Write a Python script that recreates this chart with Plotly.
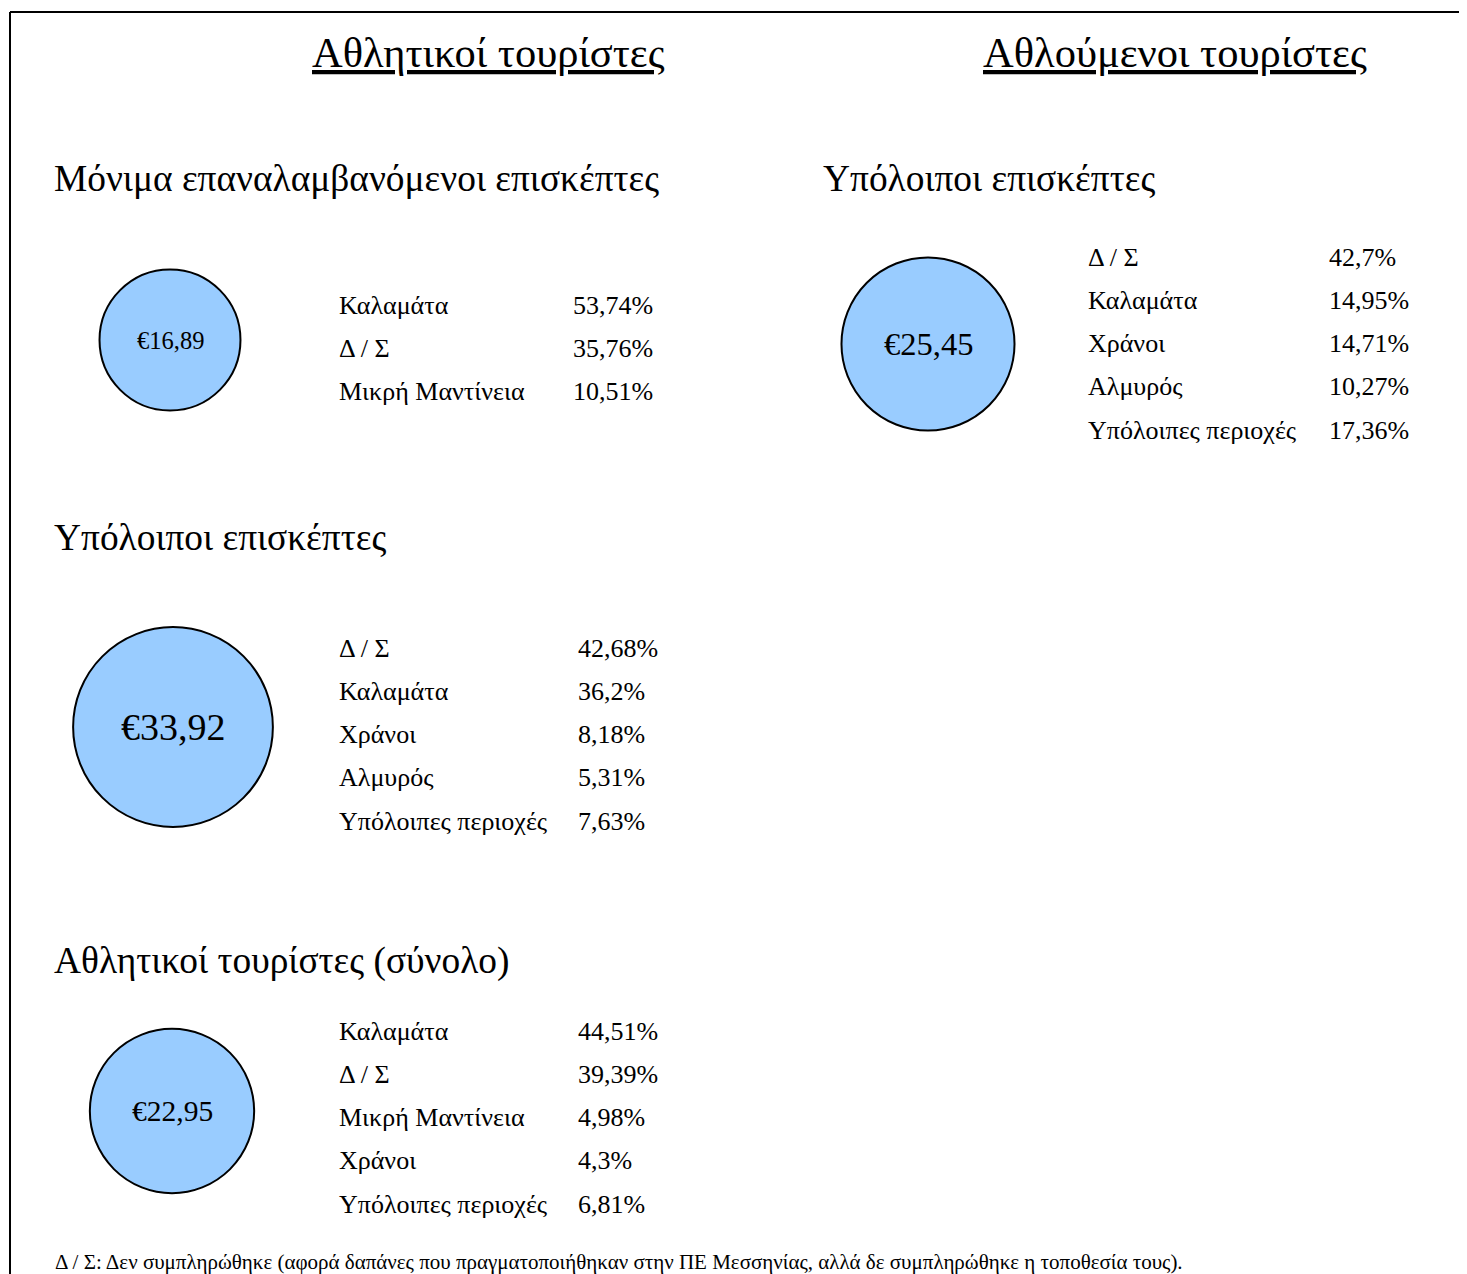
import plotly.graph_objects as go

# -------------------------------------------------
# Data
# -------------------------------------------------

group_titles = ["Αθλητικοί τουρίστες", "Αθλούμενοι τουρίστες"]

panel_titles = [
    "Μόνιμα επαναλαμβανόμενοι επισκέπτες",
    "Υπόλοιποι επισκέπτες",
    "Αθλητικοί τουρίστες (σύνολο)",
    "Υπόλοιποι επισκέπτες",
]

avg_spend = [16.89, 33.92, 22.95, 25.45]

areas_1 = ["Καλαμάτα", "Δ / Σ", "Μικρή Μαντίνεια"]
shares_1 = ["53,74%", "35,76%", "10,51%"]

areas_2 = ["Δ / Σ", "Καλαμάτα", "Χράνοι", "Αλμυρός", "Υπόλοιπες περιοχές"]
shares_2 = ["42,68%", "36,2%", "8,18%", "5,31%", "7,63%"]

areas_3 = ["Καλαμάτα", "Δ / Σ", "Μικρή Μαντίνεια", "Χράνοι", "Υπόλοιπες περιοχές"]
shares_3 = ["44,51%", "39,39%", "4,98%", "4,3%", "6,81%"]

areas_4 = ["Δ / Σ", "Καλαμάτα", "Χράνοι", "Αλμυρός", "Υπόλοιπες περιοχές"]
shares_4 = ["42,7%", "14,95%", "14,71%", "10,27%", "17,36%"]

footnote = ("Δ / Σ: Δεν συμπληρώθηκε (αφορά δαπάνες που πραγματοποιήθηκαν "
            "στην ΠΕ Μεσσηνίας, αλλά δε συμπληρώθηκε η τοποθεσία τους).")

# -------------------------------------------------
# Layout (pixel positions on the page)
# -------------------------------------------------

W, H = 1467, 1274
OFF = 8  # default body margin of the html page
FONT = "Liberation Serif, Times New Roman, DejaVu Serif, serif"

circle_x = [170, 173, 172, 928]
circle_y = [340, 727, 1111, 344]
label_sizes = [24.5, 38, 29.5, 32.5]

header_pos = [(52, 178), (52, 537), (52, 961), (821, 178)]
table_pos = [
    (337, 571, 305),
    (337, 576, 648),
    (337, 576, 1031),
    (1086, 1327, 257),
]
row_step = 43.3

tables = [
    (areas_1, shares_1),
    (areas_2, shares_2),
    (areas_3, shares_3),
    (areas_4, shares_4),
]

fig = go.Figure()

fig.add_trace(go.Scatter(
    x=circle_x,
    y=circle_y,
    mode="markers",
    marker=dict(
        size=avg_spend,
        sizemode="area",
        sizeref=2 / 34.3 ** 2,
        color="#99CCFF",
        line=dict(color="black", width=2),
        opacity=1,
    ),
    hoverinfo="skip",
    showlegend=False,
))

annotations = []

for v, cx, cy, fs in zip(avg_spend, circle_x, circle_y, label_sizes):
    annotations.append(dict(
        x=cx, y=cy, xref="x", yref="y",
        text="€" + f"{v:.2f}".replace(".", ","),
        showarrow=False,
        font=dict(family=FONT, size=fs, color="black"),
    ))

for title, cx in zip(group_titles, [488, 1175]):
    annotations.append(dict(
        x=cx, y=52, xref="x", yref="y",
        text="<u>" + title + "</u>",
        showarrow=False,
        font=dict(family=FONT, size=42.5, color="black"),
    ))

for title, (hx, hy) in zip(panel_titles, header_pos):
    annotations.append(dict(
        x=hx, y=hy, xref="x", yref="y",
        text=title,
        showarrow=False,
        xanchor="left",
        font=dict(family=FONT, size=37.4, color="black"),
    ))

for (areas, shares), (lx, vx, ty) in zip(tables, table_pos):
    for i, (a, s) in enumerate(zip(areas, shares)):
        yy = ty + i * row_step
        annotations.append(dict(
            x=lx, y=yy, xref="x", yref="y", text=a,
            showarrow=False, xanchor="left",
            font=dict(family=FONT, size=26, color="black"),
        ))
        annotations.append(dict(
            x=vx, y=yy, xref="x", yref="y", text=s,
            showarrow=False, xanchor="left",
            font=dict(family=FONT, size=26, color="black"),
        ))

annotations.append(dict(
    x=53, y=1262, xref="x", yref="y",
    text=footnote,
    showarrow=False, xanchor="left",
    font=dict(family=FONT, size=21, color="black"),
))

fig.update_layout(
    width=W,
    height=H,
    margin=dict(l=0, r=0, t=0, b=0),
    paper_bgcolor="white",
    plot_bgcolor="white",
    xaxis=dict(range=[OFF, W + OFF], visible=False, fixedrange=True),
    yaxis=dict(range=[H + OFF, OFF], visible=False, fixedrange=True),
    annotations=annotations,
    shapes=[
        dict(type="line", xref="x", yref="y", x0=10, x1=W + OFF, y0=12, y1=12,
             line=dict(color="black", width=2)),
        dict(type="line", xref="x", yref="y", x0=10, x1=10, y0=12, y1=H + OFF,
             line=dict(color="black", width=2)),
    ],
)

fig.write_html("out.html")
